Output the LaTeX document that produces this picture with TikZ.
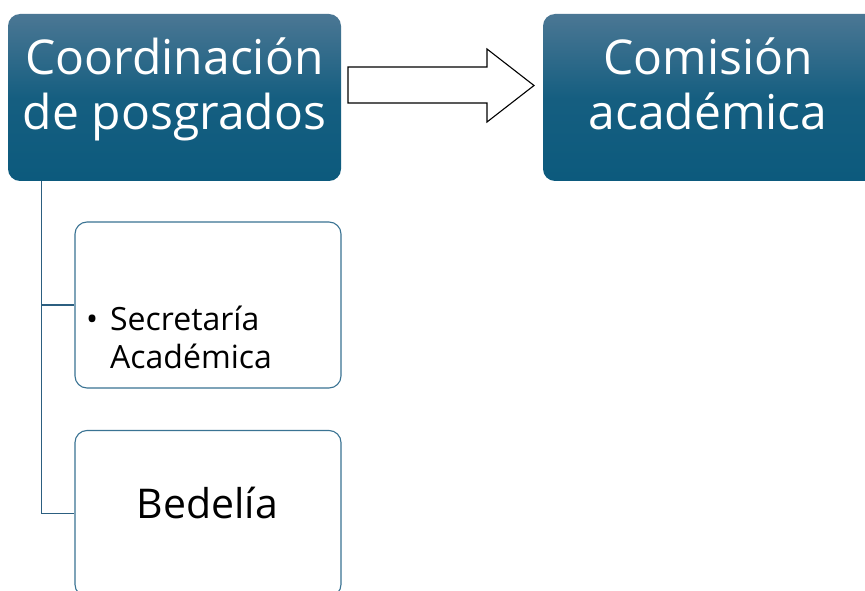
\documentclass[tikz,border=0pt]{standalone}
\usepackage{fontspec}
\setmainfont{Open Sans}
\usetikzlibrary{calc}
\definecolor{topblue}{HTML}{4B7794}
\definecolor{botblue}{HTML}{0C5A7D}
\definecolor{edgeblue}{HTML}{3A7393}
\definecolor{lineblue}{HTML}{2C5F80}
\tikzset{
  headbox/.style={rounded corners=12pt, top color=topblue, bottom color=botblue, middle color=botblue!85!topblue, draw=none, minimum width=333pt, minimum height=167pt, inner sep=0pt},
  headtext/.style={text=white, align=center, font=\fontsize{48}{55}\selectfont, inner sep=0pt, anchor=base},
  subbox/.style={rounded corners=12pt, draw=edgeblue, line width=1.1pt, fill=white, minimum width=266pt, minimum height=166pt, inner sep=0pt},
  subtext/.style={text=black, inner sep=0pt},
  link/.style={draw=lineblue, line width=1.3pt},
  blockarrow/.style={draw=black, line width=1.1pt, fill=white, line join=miter}
}
\begin{document}
\begin{tikzpicture}[x=1pt,y=-1pt]
\useasboundingbox (0,0) rectangle (865,591);
\fill[white] (0,0) rectangle (865,591);
% head boxes
\node[headbox] (coord) at (174.5,97.5) {};
\node[headtext] (coordtext) at (174.5,130) {Coordinación\\de posgrados};
\node[headbox, minimum width=334pt] (comi) at (710,97.5) {};
\node[headtext] (comitext) at (708,130) {Comisión\\académica};
% block arrow
\draw[blockarrow] (348,67) -- (487,67) -- (487,49) -- (534,85.5) -- (487,122) -- (487,103) -- (348,103) -- cycle;
% sub boxes
\node[subbox] (sec) at (208,305) {};
\node[subbox] (bed) at (208,513.5) {};
\node[subtext, anchor=base west, align=left, font=\fontsize{32}{38}\selectfont] (sectext) at (110,368) {\llap{•\hspace{12pt}}Secretaría\\Académica};
\node[subtext, anchor=base, font=\fontsize{41}{48}\selectfont] (bedtext) at (207.5,518) {Bedelía};
% connectors
\coordinate (stem) at ($(coord.south west)+(34,0)$);
\draw[link] (stem) |- (sec.west);
\draw[link] (stem) |- (bed.west);
\end{tikzpicture}
\end{document}
